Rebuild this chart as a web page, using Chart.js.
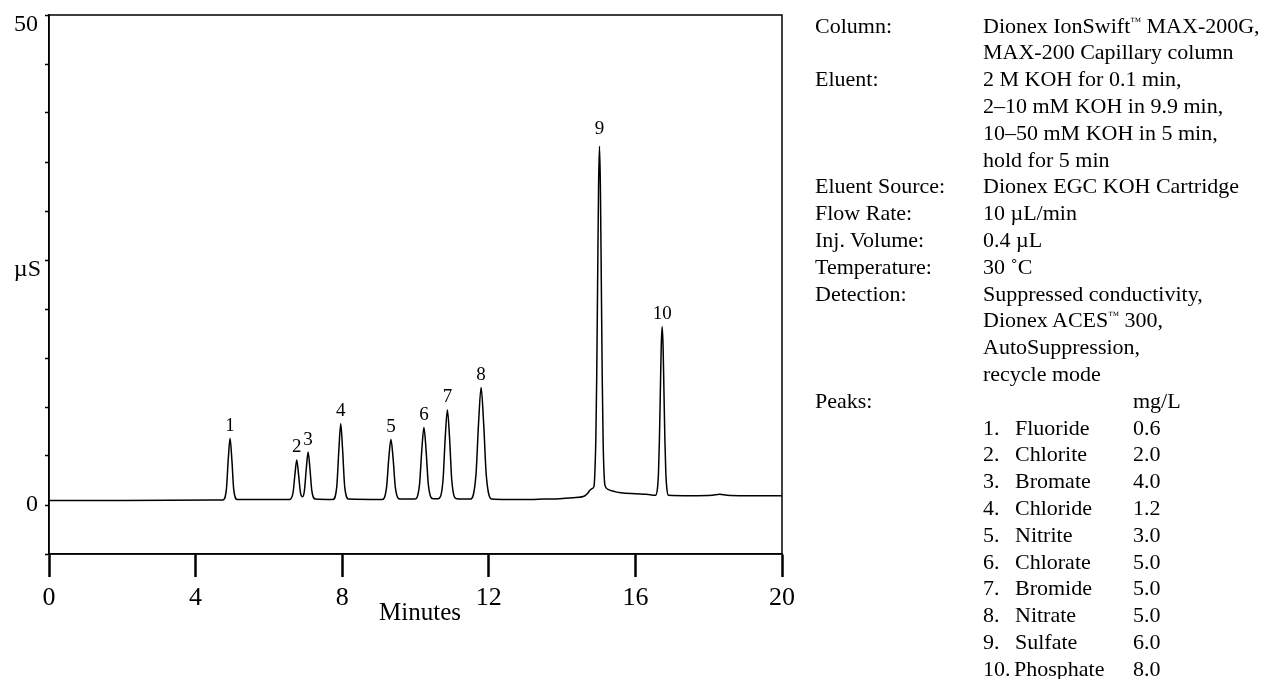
<!DOCTYPE html>
<html>
<head>
<meta charset="utf-8">
<script src="https://cdn.jsdelivr.net/npm/chart.js@4.4.1/dist/chart.umd.min.js"></script>
<style>
    html, body { margin: 0; padding: 0; background: #fff; }
    #wrap { position: relative; width: 1272px; height: 679px; overflow: hidden; }
    #chart { position: absolute; left: 0; top: 0; }
    .info { position: absolute; font-family: "Liberation Serif", "Times New Roman", serif; font-size: 22px; line-height: 26.8px; color: #000; white-space: pre; }
    .tm { font-size: 11px; line-height: 0; vertical-align: 8px; }
</style>
</head>
<body>
<div id="wrap">
    <canvas id="chart" width="1272" height="679"></canvas>
    <div id="info"></div>
</div>
<script>
// chromatogram trace (minutes, µS)
const traceTimes = [
    0, 2.0, 4.5, 4.74, 4.84, 4.89, 4.94, 4.99, 5.04, 5.14,
    5.6, 6.3, 6.56, 6.66, 6.71, 6.76, 6.81, 6.86, 6.92, 6.97,
    7.02, 7.07, 7.12, 7.17, 7.27, 7.74, 7.85, 7.91, 7.96, 8.01,
    8.07, 8.18, 9.08, 9.21, 9.27, 9.33, 9.39, 9.45, 9.58, 9.98,
    10.11, 10.17, 10.23, 10.29, 10.35, 10.48, 10.62, 10.75, 10.81, 10.87,
    10.93, 10.99, 11.12, 11.5, 11.65, 11.72, 11.79, 11.86, 11.93, 12.08,
    12.5, 13.0, 13.5, 13.94, 14.3, 14.6, 14.7, 14.76, 14.83, 14.87,
    14.895, 14.92, 14.945, 14.97, 14.995, 15.02, 15.045, 15.07, 15.095, 15.12,
    15.145, 15.17, 15.25, 15.6, 16.0, 16.3, 16.55, 16.605, 16.63, 16.655,
    16.68, 16.705, 16.73, 16.755, 16.78, 16.805, 16.83, 16.855, 16.9, 17.5,
    18.1, 18.3, 18.5, 19.0, 20
];
const traceSignal = [
    0.45, 0.45, 0.5, 0.5, 1.6, 4.6, 6.8, 4.6, 1.6, 0.55,
    0.55, 0.55, 0.55, 1.3, 3.1, 4.6, 3.1, 1.3, 0.85, 1.5,
    3.7, 5.4, 3.7, 1.5, 0.6, 0.55, 1.8, 5.7, 8.3, 5.7,
    1.8, 0.6, 0.55, 1.8, 4.7, 6.7, 4.7, 1.8, 0.6, 0.6,
    2.1, 5.5, 7.9, 5.5, 2.1, 0.65, 0.65, 2.5, 6.8, 9.7,
    6.8, 2.5, 0.65, 0.6, 3.1, 8.3, 12.0, 8.3, 3.1, 0.6,
    0.55, 0.55, 0.6, 0.65, 0.75, 0.9, 1.2, 1.5, 1.7, 1.9,
    3.4, 6.6, 13.2, 23.0, 32.5, 36.6, 32.4, 22.8, 13.0, 6.4,
    3.2, 2.0, 1.6, 1.25, 1.15, 1.1, 1.0, 1.8, 3.3, 6.6,
    11.4, 16.2, 18.2, 16.2, 11.4, 6.6, 3.3, 1.8, 1.0, 0.95,
    1.0, 1.1, 1.0, 0.95, 0.95
];

const peakNumbers = ['1', '2', '3', '4', '5', '6', '7', '8', '9', '10'];
const peakTimes = [4.94, 6.76, 7.07, 7.96, 9.33, 10.23, 10.87, 11.79, 15.02, 16.73];
const peakHeights = [6.8, 4.6, 5.4, 8.3, 6.7, 7.9, 9.7, 12.0, 36.6, 18.2];
const peakNames = ['Fluoride', 'Chlorite', 'Bromate', 'Chloride', 'Nitrite', 'Chlorate', 'Bromide', 'Nitrate', 'Sulfate', 'Phosphate'];
const peakConc = ['0.6', '2.0', '4.0', '1.2', '3.0', '5.0', '5.0', '5.0', '6.0', '8.0'];

const xTickStep = 4;
const yTickStep = 5;
const yLabelled = [0, 50];

const conditions = [
    ['Column:', 'Dionex IonSwift\u2122 MAX-200G,'],
    ['', 'MAX-200 Capillary column'],
    ['Eluent:', '2 M KOH for 0.1 min,'],
    ['', '2\u201310 mM KOH in 9.9 min,'],
    ['', '10\u201350 mM KOH in 5 min,'],
    ['', 'hold for 5 min'],
    ['Eluent Source:', 'Dionex EGC KOH Cartridge'],
    ['Flow Rate:', '10 \u00b5L/min'],
    ['Inj. Volume:', '0.4 \u00b5L'],
    ['Temperature:', '30 \u02daC'],
    ['Detection:', 'Suppressed conductivity,'],
    ['', 'Dionex ACES\u2122 300,'],
    ['', 'AutoSuppression,'],
    ['', 'recycle mode']
];

const FONT = '"Liberation Serif", "Times New Roman", serif';

function addText(parent, text, left, top) {
    const el = document.createElement('div');
    el.className = 'info';
    // small raised trademark sign like the original
    text.split('\u2122').forEach((part, i) => {
        if (i > 0) {
            const tm = document.createElement('span');
            tm.className = 'tm';
            tm.textContent = '\u2122';
            el.appendChild(tm);
        }
        el.appendChild(document.createTextNode(part));
    });
    el.style.left = left + 'px';
    el.style.top = top + 'px';
    parent.appendChild(el);
}

function buildInfo() {
    const box = document.getElementById('info');
    const top0 = 12.6;
    const lh = 26.8;
    conditions.forEach(([label, value], i) => {
        if (label) addText(box, label, 815, top0 + i * lh);
        addText(box, value, 983, top0 + i * lh);
    });
    const row = conditions.length;
    addText(box, 'Peaks:', 815, top0 + row * lh);
    addText(box, 'mg/L', 1133, top0 + row * lh);
    peakNames.forEach((name, i) => {
        const y = top0 + (row + 1 + i) * lh;
        addText(box, peakNumbers[i] + '.', 983, y);
        addText(box, name, i === 9 ? 1014 : 1015, y);
        addText(box, peakConc[i], 1133, y);
    });
}

const decorations = {
    id: 'decorations',
    afterDraw(chart) {
        const { ctx, chartArea, scales } = chart;
        ctx.save();
        ctx.strokeStyle = '#000';
        ctx.lineWidth = 1.5;
        ctx.strokeRect(chartArea.left, chartArea.top, chartArea.right - chartArea.left, chartArea.bottom - chartArea.top);

        ctx.fillStyle = '#000';
        ctx.font = '19px ' + FONT;
        ctx.textAlign = 'center';
        ctx.textBaseline = 'bottom';
        peakNumbers.forEach((n, i) => {
            const gap = peakHeights[i] > 30 ? 8 : 3;
            ctx.fillText(n, scales.x.getPixelForValue(peakTimes[i]), scales.y.getPixelForValue(peakHeights[i]) - gap);
        });

        ctx.font = '25px ' + FONT;
        ctx.textBaseline = 'middle';
        ctx.fillText('Minutes', 420, 613);

        // y labels: only 0 and 50, the top one sits just under its tick
        ctx.textAlign = 'right';
        ctx.font = '24px ' + FONT;
        yLabelled.forEach(v => {
            const shift = v === scales.y.max ? 10 : 0;
            ctx.fillText(String(v), 38, scales.y.getPixelForValue(v) + shift);
        });
        ctx.fillText('\u00b5S', 41, scales.y.getPixelForValue(24));
        ctx.restore();
    }
};

function createChart() {
    const ctx = document.getElementById('chart').getContext('2d');
    const points = traceTimes.map((t, i) => ({ x: t, y: traceSignal[i] }));

    new Chart(ctx, {
        type: 'line',
        data: {
            datasets: [{
                data: points,
                borderColor: '#000',
                borderWidth: 1.5,
                pointRadius: 0,
                fill: false,
                cubicInterpolationMode: 'monotone'
            }]
        },
        options: {
            responsive: false,
            animation: false,
            layout: { padding: { top: 15, right: 490, left: 0, bottom: 0 } },
            plugins: {
                legend: { display: false },
                tooltip: { enabled: false }
            },
            scales: {
                x: {
                    type: 'linear',
                    min: 0,
                    max: 20,
                    afterFit(scale) { scale.height = 125; },
                    ticks: {
                        stepSize: xTickStep,
                        color: '#000',
                        padding: 6,
                        maxRotation: 0,
                        font: { family: FONT, size: 26 }
                    },
                    grid: {
                        drawOnChartArea: false,
                        drawTicks: true,
                        tickLength: 23,
                        tickWidth: 2.5,
                        tickColor: '#000'
                    },
                    border: { color: '#000', width: 1.5 }
                },
                y: {
                    min: -5,
                    max: 50,
                    afterFit(scale) { scale.width = 49; },
                    ticks: {
                        stepSize: yTickStep,
                        color: '#000',
                        font: { family: FONT, size: 12, lineHeight: 1 },
                        callback: () => ''
                    },
                    grid: {
                        drawOnChartArea: false,
                        drawTicks: true,
                        tickLength: 4,
                        tickWidth: 1.5,
                        tickColor: '#000'
                    },
                    border: { color: '#000', width: 1.5 }
                }
            }
        },
        plugins: [decorations]
    });
}

document.addEventListener('DOMContentLoaded', () => {
    buildInfo();
    createChart();
});
</script>
</body>
</html>
